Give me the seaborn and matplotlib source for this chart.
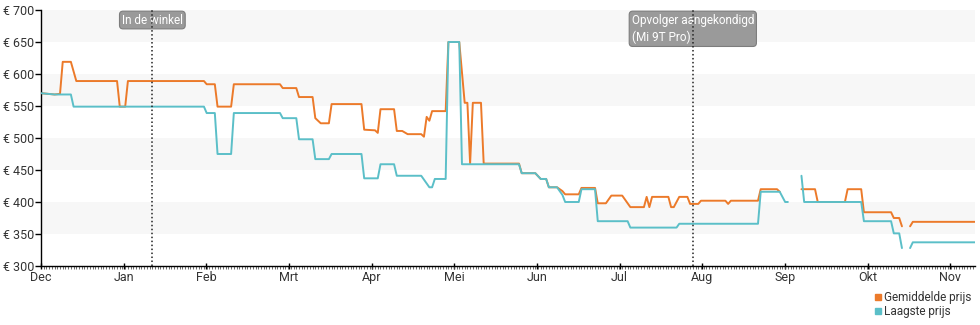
import numpy as np
import pandas as pd
import matplotlib
matplotlib.use("Agg")
import matplotlib.pyplot as plt
import matplotlib.dates as mdates
from matplotlib.lines import Line2D
import seaborn as sns

# Gemiddelde prijs (average price); NaN marks a gap in the history
avg_dates = [
    "2018-12-01", "2018-12-06", "2018-12-08", "2018-12-09", "2018-12-12", "2018-12-14", "2018-12-29", "2018-12-30", "2019-01-01", "2019-01-02",
    "2019-01-30", "2019-01-31", "2019-02-03", "2019-02-04", "2019-02-09", "2019-02-10", "2019-02-27", "2019-02-28", "2019-03-05", "2019-03-06",
    "2019-03-11", "2019-03-12", "2019-03-14", "2019-03-17", "2019-03-18", "2019-03-29", "2019-03-30", "2019-04-03", "2019-04-04", "2019-04-05",
    "2019-04-10", "2019-04-11", "2019-04-13", "2019-04-15", "2019-04-20", "2019-04-21", "2019-04-22", "2019-04-23", "2019-04-24", "2019-04-29",
    "2019-04-30", "2019-05-04", "2019-05-06", "2019-05-07", "2019-05-08", "2019-05-09", "2019-05-12", "2019-05-13", "2019-05-26", "2019-05-27",
    "2019-06-01", "2019-06-03", "2019-06-05", "2019-06-06", "2019-06-09", "2019-06-11", "2019-06-12", "2019-06-17", "2019-06-18", "2019-06-23",
    "2019-06-24", "2019-06-27", "2019-06-29", "2019-07-03", "2019-07-06", "2019-07-11", "2019-07-12", "2019-07-13", "2019-07-14", "2019-07-20",
    "2019-07-21", "2019-07-22", "2019-07-24", "2019-07-27", "2019-07-28", "2019-07-31", "2019-08-01", "2019-08-10", "2019-08-11", "2019-08-12",
    "2019-08-22", "2019-08-23", "2019-08-29", "2019-08-30", "2019-08-31",
    "2019-09-07", "2019-09-12", "2019-09-13", "2019-09-23", "2019-09-24", "2019-09-29", "2019-09-30", "2019-10-10", "2019-10-11", "2019-10-13",
    "2019-10-14", "2019-10-15", "2019-10-17", "2019-10-18", "2019-11-10",
]
avg_price = [
    570, 568, 569, 619, 619, 589, 589, 549, 549, 589,
    589, 584, 584, 549, 549, 584, 584, 578, 578, 564,
    564, 531, 523, 523, 553, 553, 513, 512, 508, 545,
    545, 511, 511, 506, 506, 502, 533, 527, 542, 542,
    650, 650, 555, 555, 460, 555, 555, 460, 460, 445,
    445, 436, 436, 423, 423, 417, 412, 412, 422, 422,
    398, 398, 410, 410, 392, 392, 408, 392, 408, 408,
    392, 392, 408, 408, 397, 397, 402, 402, 397, 402,
    402, 420, 420, 416, np.nan,
    420, 420, 400, 400, 420, 420, 384, 384, 375, 375,
    362, np.nan, 362, 369, 369,
]

# Laagste prijs (lowest price)
low_dates = [
    "2018-12-01", "2018-12-06", "2018-12-12", "2018-12-13", "2019-01-30", "2019-01-31", "2019-02-03", "2019-02-04", "2019-02-09", "2019-02-10",
    "2019-02-27", "2019-02-28", "2019-03-05", "2019-03-06", "2019-03-11", "2019-03-12", "2019-03-17", "2019-03-18", "2019-03-29", "2019-03-30",
    "2019-04-04", "2019-04-05", "2019-04-10", "2019-04-11", "2019-04-20", "2019-04-23", "2019-04-24", "2019-04-25", "2019-04-29", "2019-04-30",
    "2019-05-04", "2019-05-05", "2019-05-26", "2019-05-27", "2019-06-01", "2019-06-03", "2019-06-05", "2019-06-06", "2019-06-09", "2019-06-11",
    "2019-06-12", "2019-06-17", "2019-06-18", "2019-06-23", "2019-06-24", "2019-07-05", "2019-07-06", "2019-07-23", "2019-07-24", "2019-08-22",
    "2019-08-23", "2019-08-30", "2019-09-01", "2019-09-02", "2019-09-03", "2019-09-07", "2019-09-08", "2019-09-29", "2019-09-30", "2019-10-10",
    "2019-10-11", "2019-10-13", "2019-10-14", "2019-10-15", "2019-10-17", "2019-10-18", "2019-11-10",
]
low_price = [
    570, 568, 568, 549, 549, 539, 539, 475, 475, 539,
    539, 531, 531, 498, 498, 467, 467, 475, 475, 437,
    437, 459, 459, 441, 441, 423, 423, 436, 436, 650,
    650, 459, 459, 445, 445, 436, 436, 423, 423, 411,
    400, 400, 420, 420, 370, 370, 360, 360, 366, 366,
    416, 416, 400, 400, np.nan, 441, 400, 400, 370, 370,
    351, 351, 328, np.nan, 328, 337, 337,
]

month_labels = ["Dec", "Jan", "Feb", "Mrt", "Apr", "Mei", "Jun", "Jul", "Aug", "Sep", "Okt", "Nov"]
price_ticks = [300, 350, 400, 450, 500, 550, 600, 650, 700]
events = [
    ("2019-01-11", "In de winkel"),
    ("2019-07-29", "Opvolger aangekondigd\n(Mi 9T Pro)"),
]

ORANGE = "#ec7a2a"
TEAL = "#5bbfc8"


def series_frame(dates, prices):
    df = pd.DataFrame({"datum": pd.to_datetime(dates), "prijs": prices})
    df["deel"] = df["prijs"].isna().cumsum()
    return df.dropna()


sns.set_theme(style="ticks")
plt.rcParams["font.family"] = ["Roboto", "DejaVu Sans"]

fig = plt.figure(figsize=(9.8, 3.25), dpi=100)
ax = fig.add_axes([41 / 980, 59 / 325, 934 / 980, 256 / 325])

# alternating horizontal bands
for lo in (350, 450, 550, 650):
    ax.axhspan(lo, lo + 50, color="#f7f7f7", lw=0, zorder=0)

sns.lineplot(data=series_frame(avg_dates, avg_price), x="datum", y="prijs",
             units="deel", estimator=None, color=ORANGE, lw=1.4, ax=ax,
             legend=False, zorder=2)
sns.lineplot(data=series_frame(low_dates, low_price), x="datum", y="prijs",
             units="deel", estimator=None, color=TEAL, lw=1.4, ax=ax,
             legend=False, zorder=3)

start = mdates.date2num(pd.Timestamp("2018-12-01"))
ax.set_xlim(start, start + 343.9)
ax.set_ylim(300, 700)

# month ticks every average month length, daily minor ticks
ax.set_xticks([start + k * 30.4375 for k in range(len(month_labels))])
ax.set_xticklabels(month_labels)
ax.set_xticks(start + np.arange(0, 344), minor=True)
ax.set_yticks(price_ticks)
ax.set_yticklabels([f"€ {v}" for v in price_ticks])

ax.tick_params(axis="both", which="major", labelsize=9, labelcolor="#333333", color="black")
ax.tick_params(axis="x", which="major", direction="inout", length=5, width=1, pad=1)
ax.tick_params(axis="x", which="minor", direction="out", length=2, width=0.6, color="#555555")
ax.tick_params(axis="y", which="major", direction="out", length=4, width=1, pad=1)

for side in ("top", "right"):
    ax.spines[side].set_visible(False)
for side in ("left", "bottom"):
    ax.spines[side].set_color("black")
    ax.spines[side].set_linewidth(1.0)
ax.set_xlabel("")
ax.set_ylabel("")

for day, label in events:
    xd = mdates.date2num(pd.Timestamp(day))
    ax.axvline(xd, color="#222222", ls=(0, (1, 1.6)), lw=1.1, zorder=6)
    ax.text(xd, 694.5, label, ha="center", va="top", multialignment="left",
            color="white", fontsize=8.5, linespacing=1.4, zorder=5,
            bbox=dict(boxstyle="round,pad=0.2,rounding_size=0.3",
                      fc="#9a9a9a", ec="#7d7d7d", lw=0.8))

handles = [
    Line2D([], [], marker="s", ls="none", color=ORANGE, markersize=5),
    Line2D([], [], marker="s", ls="none", color=TEAL, markersize=5),
]
fig.legend(handles, ["Gemiddelde prijs", "Laagste prijs"], loc="lower right",
           bbox_to_anchor=(0.998, 0.0), frameon=False, fontsize=8.5,
           handletextpad=0.1, handlelength=0.8, labelspacing=0.1,
           borderaxespad=0.2, labelcolor="#333333")

fig.savefig("out.png", dpi=100)
